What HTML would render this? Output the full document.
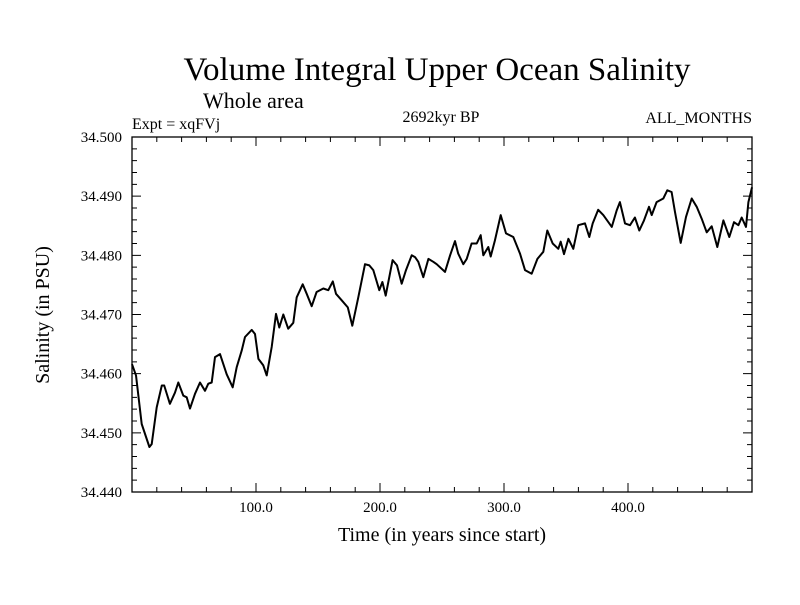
<!DOCTYPE html>
<html><head><meta charset="utf-8"><style>
body{margin:0;background:#fff;}
svg text{font-family:"Liberation Serif",serif;fill:#000;}
</style></head><body>
<svg id="chart" width="800" height="600" xmlns="http://www.w3.org/2000/svg">
<rect width="800" height="600" fill="#fff"/>
<text x="437" y="80" font-size="33" text-anchor="middle">Volume Integral Upper Ocean Salinity</text>
<text x="203" y="108" font-size="22">Whole area</text>
<text x="132" y="129" font-size="16">Expt = xqFVj</text>
<text x="441" y="122" font-size="16" text-anchor="middle">2692kyr BP</text>
<text x="752" y="123" font-size="16" text-anchor="end">ALL_MONTHS</text>
<text x="442" y="541" font-size="20" text-anchor="middle">Time (in years since start)</text>
<text x="0" y="0" font-size="20" text-anchor="middle" transform="translate(49,315) rotate(-90)">Salinity (in PSU)</text>
<g id="axes"></g>
<g id="plot"></g>
</svg>
<script>
const years=[0,3.2,7.8,14.0,15.9,19.9,24.0,26.0,30.6,34.7,37.3,41.4,44.1,46.8,50.8,54.8,58.9,61.5,64.3,66.9,71.0,76.4,81.2,84.4,88.5,91.1,96.5,99.2,101.9,105.9,108.6,112.7,116.1,118.8,122.0,126.0,130.1,132.8,137.7,140.9,144.9,148.9,154.3,158.3,161.9,164.5,169.1,174.0,177.7,182.5,187.9,191.4,194.6,199.4,201.9,204.6,210.2,213.7,217.5,221.0,225.6,228.2,230.9,234.9,239.0,243.0,245.7,252.4,256.5,260.5,263.1,267.2,269.9,273.9,278.0,281.2,283.3,287.3,289.3,292.7,297.3,301.6,307.5,312.9,316.9,322.3,326.9,331.7,334.9,339.3,343.8,345.7,348.4,351.9,355.9,359.9,365.3,368.8,371.5,376.0,380.1,386.9,390.9,393.5,397.6,401.6,405.6,409.1,412.9,416.9,419.1,423.1,428.5,431.7,435.2,437.9,442.5,446.8,451.4,455.4,459.4,463.5,467.5,472.0,476.9,481.7,485.5,489.0,491.7,495.2,497.1,500];
const salinity=[34.4616,34.4597,34.4515,34.4476,34.4481,34.4543,34.4580,34.4580,34.4549,34.4568,34.4585,34.4563,34.4560,34.4541,34.4566,34.4585,34.4571,34.4583,34.4585,34.4628,34.4633,34.4599,34.4577,34.4611,34.4639,34.4662,34.4674,34.4667,34.4625,34.4614,34.4597,34.4645,34.4701,34.4678,34.4700,34.4676,34.4686,34.4729,34.4751,34.4735,34.4714,34.4738,34.4744,34.4741,34.4756,34.4735,34.4724,34.4712,34.4681,34.4729,34.4785,34.4783,34.4775,34.4741,34.4755,34.4732,34.4792,34.4783,34.4752,34.4775,34.4800,34.4797,34.4789,34.4763,34.4794,34.4789,34.4785,34.4772,34.4800,34.4824,34.4803,34.4785,34.4794,34.4820,34.4820,34.4834,34.4800,34.4814,34.4798,34.4825,34.4868,34.4837,34.4831,34.4803,34.4775,34.4769,34.4794,34.4806,34.4842,34.4820,34.4811,34.4823,34.4802,34.4828,34.4811,34.4851,34.4854,34.4831,34.4854,34.4877,34.4868,34.4848,34.4876,34.4890,34.4854,34.4851,34.4864,34.4842,34.4859,34.4882,34.4868,34.4890,34.4896,34.4910,34.4907,34.4873,34.4821,34.4865,34.4896,34.4882,34.4862,34.4839,34.4849,34.4814,34.4859,34.4831,34.4856,34.4851,34.4864,34.4848,34.4890,34.4915];
const xTickValues=[100,200,300,400];
const xTickLabels=["100.0","200.0","300.0","400.0"];
const yTickValues=[34.44,34.45,34.46,34.47,34.48,34.49,34.50];
const yTickLabels=["34.440","34.450","34.460","34.470","34.480","34.490","34.500"];
const X0=132,X1=752,Y0=137,Y1=492,xMin=0,xMax=500,yMin=34.44,yMax=34.50;
const sx=v=>X0+(v-xMin)/(xMax-xMin)*(X1-X0);
const sy=v=>Y1-(v-yMin)/(yMax-yMin)*(Y1-Y0);
const NS="http://www.w3.org/2000/svg";
const axes=document.getElementById('axes'),plot=document.getElementById('plot');
function mk(tag,attrs,parent){const e=document.createElementNS(NS,tag);for(const k in attrs)e.setAttribute(k,attrs[k]);parent.appendChild(e);return e;}
const frame=mk('rect',{x:X0,y:Y0,width:X1-X0,height:Y1-Y0,fill:'none',stroke:'#000','stroke-width':1.3},axes);


let d='';
for(let v=20;v<500;v+=20){const major=v%100===0;const L=major?9:5;const x=sx(v);
d+=`M${x},${Y1}v${-L}M${x},${Y0}v${L}`;}
for(let i=1;i<30;i++){const v=yMin+i*0.002;const major=i%5===0;const L=major?9:5;const y=sy(v);
d+=`M${X0},${y}h${L}M${X1},${y}h${-L}`;}
const ticks=mk('path',{d:d,stroke:'#000','stroke-width':1,fill:'none'},axes);


xTickValues.forEach((v,i)=>{const t=mk('text',{x:sx(v),y:512,'font-size':15,'text-anchor':'middle'},axes);t.textContent=xTickLabels[i];

});
yTickValues.forEach((v,i)=>{const t=mk('text',{x:122,y:sy(v)+5,'font-size':15,'text-anchor':'end'},axes);t.textContent=yTickLabels[i];

});
const pts=years.map((y,i)=>sx(y).toFixed(1)+','+sy(salinity[i]).toFixed(1)).join(' ');
const line=mk('polyline',{points:pts,fill:'none',stroke:'#000','stroke-width':2,'stroke-linejoin':'round'},plot);


</script>
</body></html>
